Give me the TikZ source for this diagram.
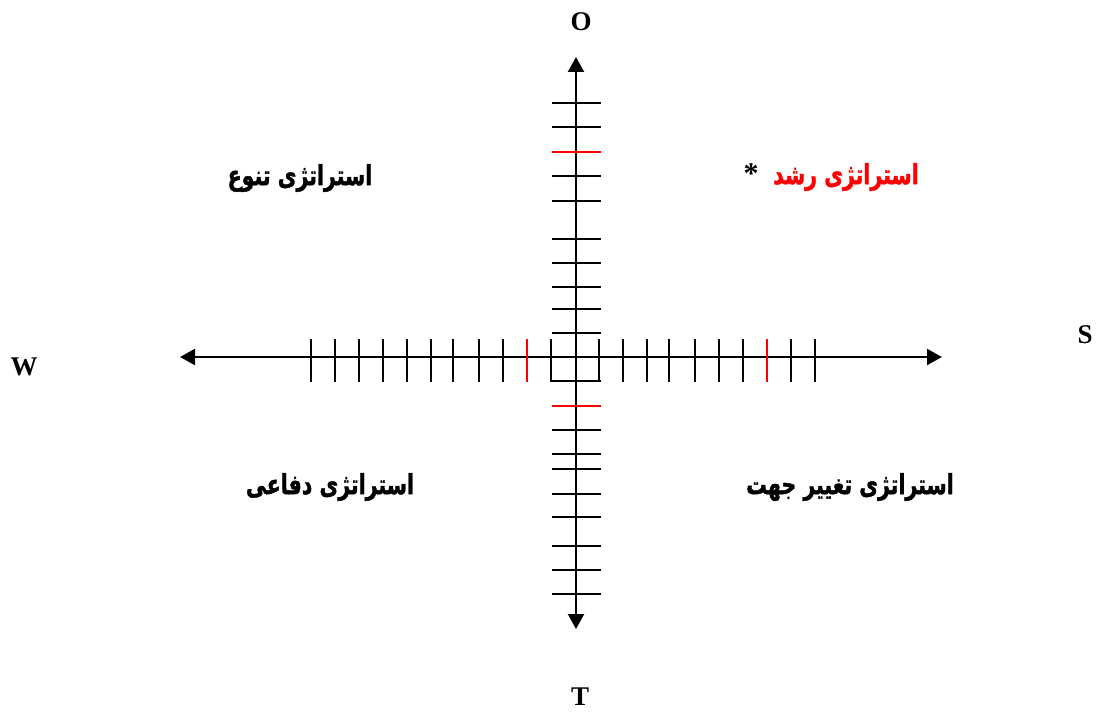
\documentclass[tikz,border=0pt]{standalone}
\usepackage{fontspec}
\setmainfont{Liberation Serif}
\newfontfamily\arabicfont[Script=Arabic,BoldFeatures={FakeBold=1.6}]{DejaVu Sans}
\TeXXeTstate=1
\usetikzlibrary{arrows.meta}
\newcommand{\fatext}[1]{\scalebox{1}[1.35]{\beginR #1\endR}}
\begin{document}
\begin{tikzpicture}[x=1pt,y=-1pt,
  axisline/.style={line width=2.2pt,{Triangle[length=15pt,width=16pt]}-{Triangle[length=15pt,width=16pt]}},
  tickk/.style={line width=1.4pt},
  redtick/.style={tickk,draw=red},
  letter/.style={font=\fontsize{27}{30}\selectfont\bfseries,inner sep=0pt},
  fa/.style={font=\arabicfont\bfseries\fontsize{20.5}{24}\selectfont,inner sep=0pt}]
\useasboundingbox (0,0) rectangle (1098,717);
\coordinate (L) at (180,357);
\coordinate (R) at (942,357);
\coordinate (U) at (576,57);
\coordinate (D) at (576,629);
\draw[axisline] (L) -- (R);
\draw[axisline] (D) -- (U);
% ticks on horizontal axis
\foreach \x in {311,335,359,383,407,431,453,479,503,551,599,623,647,669,695,719,743,791,815}
  \draw[tickk] (\x,339) -- (\x,382);
\foreach \x in {527,767}
  \draw[redtick] (\x,339) -- (\x,382);
% ticks on vertical axis
\foreach \y in {103,127,176,201,239,263,287,309,333,381,430,454,469,494,517,546,570,594}
  \draw[tickk] (552,\y) -- (601,\y);
\foreach \y in {152,406}
  \draw[redtick] (552,\y) -- (601,\y);
% axis letters
\node[letter] (O) at (581,22) {O};
\node[letter] (T) at (580,697) {T};
\node[letter] (S) at (1085,335) {S};
\node[letter] (W) at (24,367) {W};
% quadrant labels
\node[fa] (q1) at (300,178) {\fatext{استراتژی تنوع}};
\node[fa,text=red] (q2) at (846,177) {\fatext{استراتژی رشد}};
\node[font=\fontsize{30}{32}\selectfont\bfseries,inner sep=0pt] (star) at (751,174) {*};
\node[fa] (q3) at (330,487) {\fatext{استراتژی دفاعی}};
\node[fa] (q4) at (850,487) {\fatext{استراتژی تغییر جهت}};
\end{tikzpicture}
\end{document}
